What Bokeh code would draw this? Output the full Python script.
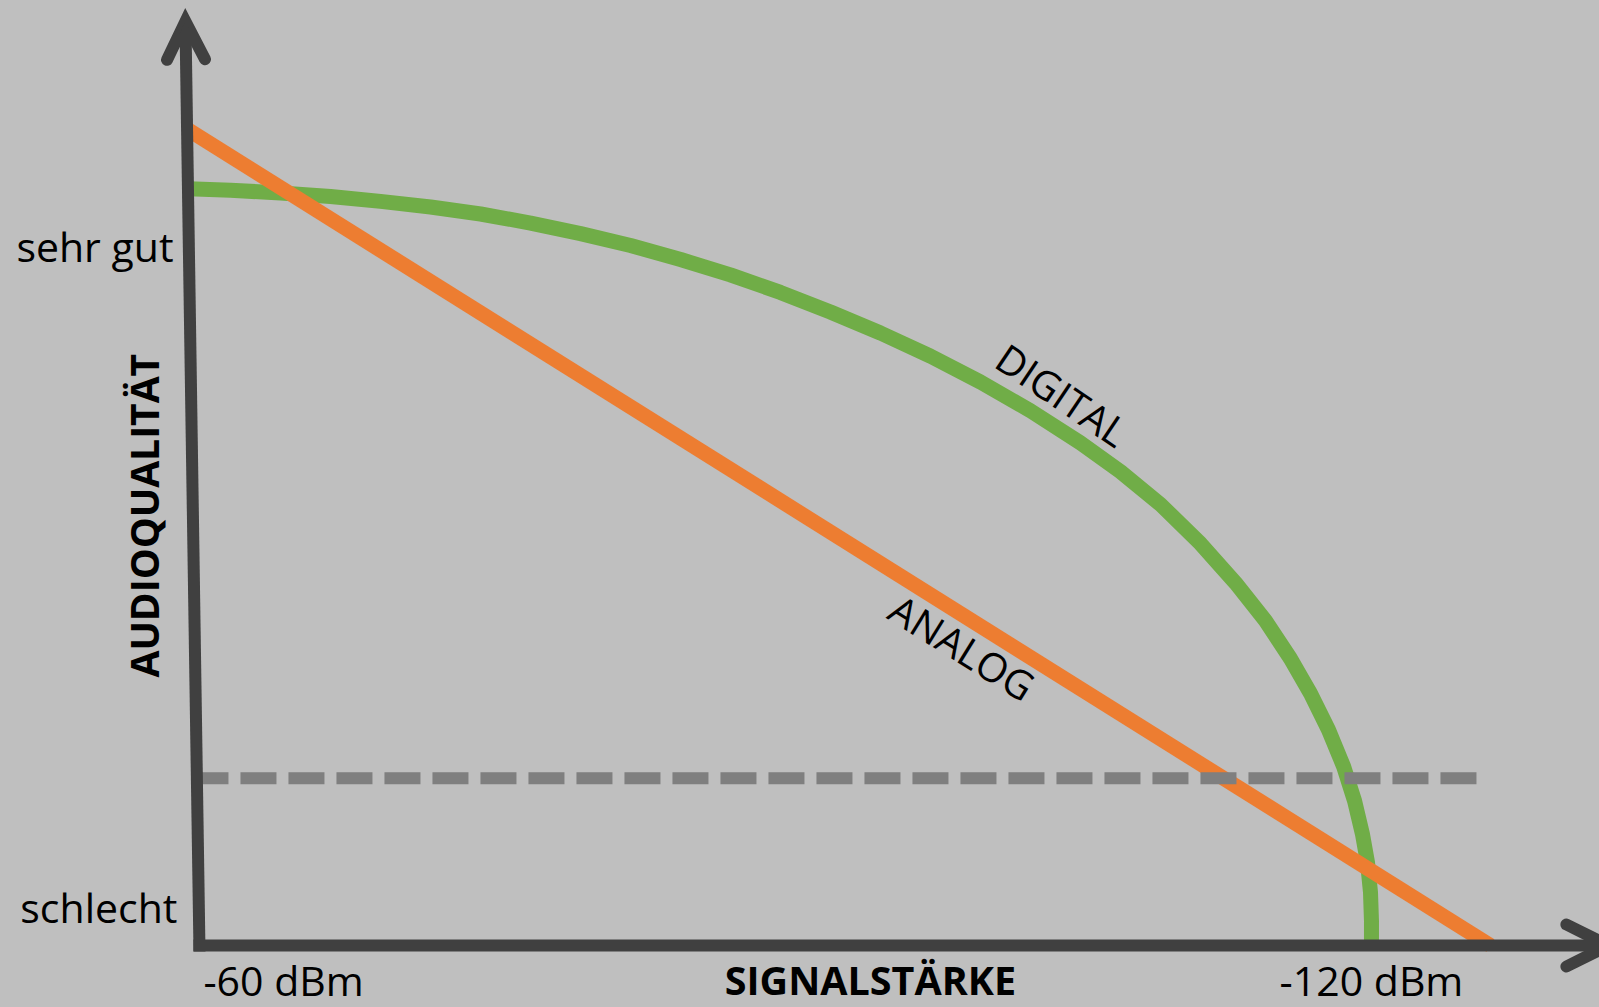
from math import pi
from bokeh.plotting import figure
from bokeh.models import Range1d, Arrow, OpenHead
from bokeh.core.properties import value
from bokeh.embed import file_html
from bokeh.resources import INLINE

# ---------------- data (signal strength in dBm, quality in arbitrary units) ----------------
digital_signal_dbm = [-59.44, -61.59, -64.15, -66.71, -69.27, -71.83, -74.39, -76.95, -79.51,
                      -82.07, -84.63, -87.18, -89.74, -92.30, -94.86, -97.42, -99.98, -102.54,
                      -105.10, -107.15, -109.20, -111.25, -113.04, -114.57, -115.85, -116.88,
                      -117.80, -118.57, -119.13, -119.54, -119.80, -119.95, -120.0, -120.0]
digital_quality = [10.81, 10.79, 10.75, 10.70, 10.63, 10.55, 10.45, 10.32, 10.17,
                   10.00, 9.80, 9.58, 9.33, 9.05, 8.75, 8.42, 8.05, 7.64,
                   7.18, 6.77, 6.30, 5.74, 5.18, 4.64, 4.10, 3.60,
                   3.08, 2.56, 2.07, 1.59, 1.18, 0.76, 0.35, 0.0]

analog_signal_dbm = [-59.44, -126.09]
analog_quality = [11.65, 0.0]

threshold_signal_dbm = [-59.64, -125.38]
threshold_quality = [2.39, 2.39]

quality_labels = ["sehr gut", "schlecht"]
quality_label_pos = [10.0, 0.557]
signal_tick_dbm = [-60, -120]
signal_tick_labels = ["-60 dBm", "-120 dBm"]

x_title = "SIGNALSTÄRKE"
y_title = "AUDIOQUALITÄT"
series_labels = ["DIGITAL", "ANALOG"]

# axis geometry (data units)
x_axis_from, x_axis_to = -59.69, -132.13
y_axis_bottom_dbm, y_axis_top_dbm = -60.0, -59.28
y_axis_from, y_axis_to = -0.086, 13.2
bottom_text_q = -0.486

BG = "#bfbfbf"
AXIS = "#404040"
GREEN = "#70ad47"
ORANGE = "#ed7d31"
DASH = "#7f7f7f"
FONT = "Open Sans"

p = figure(width=1599, height=1007,
           x_range=Range1d(-49.812, -131.674), y_range=Range1d(-0.8857, 13.5),
           output_backend="svg", toolbar_location=None, min_border=0,
           x_axis_location=None, y_axis_location=None)
p.grid.visible = False
p.outline_line_color = None
p.background_fill_color = BG
p.border_fill_color = BG

p.line(digital_signal_dbm, digital_quality, line_color=GREEN, line_width=15,
       line_join="round", line_cap="butt")
p.line(analog_signal_dbm, analog_quality, line_color=ORANGE, line_width=15, line_cap="butt")
p.line(threshold_signal_dbm, threshold_quality, line_color=DASH, line_width=12,
       line_dash="36 12", line_cap="butt")

# axes with open arrow heads
p.add_layout(Arrow(x_start=y_axis_bottom_dbm, y_start=y_axis_from,
                   x_end=y_axis_top_dbm, y_end=y_axis_to,
                   line_color=AXIS, line_width=12, line_cap="butt",
                   end=OpenHead(size=38, line_color=AXIS, line_width=12,
                                line_cap="round", line_join="miter")))
p.add_layout(Arrow(x_start=x_axis_from, y_start=0, x_end=x_axis_to, y_end=0,
                   line_color=AXIS, line_width=12, line_cap="butt",
                   end=OpenHead(size=42, line_color=AXIS, line_width=12,
                                line_cap="round", line_join="miter")))

# quality level labels
p.text(x=[-58.67, -58.87], y=quality_label_pos, text=quality_labels,
       text_font=value(FONT), text_font_size="41px", text_color="black",
       text_align="right", text_baseline="alphabetic")

# signal tick labels
p.text(x=[signal_tick_dbm[0] - 0.2], y=[bottom_text_q], text=[signal_tick_labels[0]],
       text_font=value(FONT), text_font_size="41px", text_color="black",
       text_align="left", text_baseline="alphabetic")
p.text(x=[signal_tick_dbm[1]], y=[bottom_text_q], text=[signal_tick_labels[1]],
       text_font=value(FONT), text_font_size="41px", text_color="black",
       text_align="center", text_baseline="alphabetic")

# axis titles
p.text(x=[-94.35], y=[bottom_text_q], text=[x_title], text_font=value(FONT),
       text_font_size="39.5px", text_font_style="bold", text_color="black",
       text_align="center", text_baseline="alphabetic")
p.text(x=[-57.14], y=[6.14], text=[y_title], text_font=value(FONT),
       text_font_size="39px", text_font_style="bold", text_color="black",
       text_align="center", text_baseline="alphabetic", angle=pi / 2)

# series labels along the curves
p.text(x=[-104.18], y=[7.87], text=[series_labels[0]], text_font=value(FONT),
       text_font_size="40px", text_color="black", text_align="center",
       text_baseline="middle", angle=-34 * pi / 180)
p.text(x=[-99.06], y=[4.26], text=[series_labels[1]], text_font=value(FONT),
       text_font_size="40px", text_color="black", text_align="center",
       text_baseline="middle", angle=-31.8 * pi / 180)

html = file_html(p, INLINE)
html = html.replace("</head>", "<style>body{background-color:%s;}</style></head>" % BG, 1)
open("out.html", "w").write(html)
